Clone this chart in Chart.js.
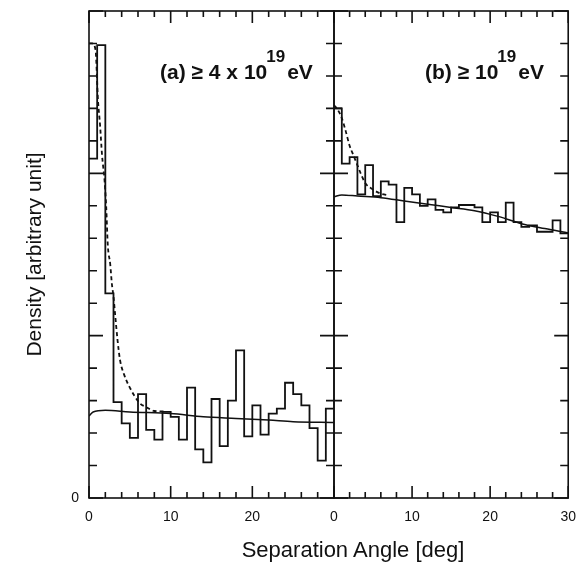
<!DOCTYPE html>
<html>
<head>
<meta charset="utf-8">
<script src="https://cdn.jsdelivr.net/npm/chart.js@4.4.0/dist/chart.umd.min.js"></script>
<style>
  body { margin: 0; background: #fff; }
  #wrap { position: relative; width: 587px; height: 562px; }
  canvas { position: absolute; left: 0; top: 0; }
  #xtitle { position: absolute; left: 0; width: 706px; top: 537px; line-height: 22px;
            text-align: center; font: 22px "Liberation Sans", Arial, sans-serif; color: #111; }
</style>
</head>
<body>
<div id="wrap">
  <canvas id="chartA" width="587" height="562"></canvas>
  <canvas id="chartB" width="587" height="562"></canvas>
  <div id="xtitle">Separation Angle [deg]</div>
</div>
<script>
// bin edges in deg (1 deg bins, last edge closes the histogram)
var binEdges = [0, 1, 2, 3, 4, 5, 6, 7, 8, 9, 10, 11, 12, 13, 14, 15, 16, 17, 18, 19, 20,
                21, 22, 23, 24, 25, 26, 27, 28, 29, 30];

// ---- panel (a) >= 4 x 10^19 eV ----
var histA = [2.09, 2.79, 1.26, 0.59, 0.46, 0.37, 0.64, 0.42, 0.36, 0.53,
             0.50, 0.36, 0.68, 0.30, 0.22, 0.61, 0.32, 0.60, 0.91, 0.38,
             0.57, 0.39, 0.52, 0.55, 0.71, 0.64, 0.57, 0.43, 0.23, 0.55];
var fitAngleA = [0, 0.5, 2, 5, 10, 14, 18, 22, 25, 30];
var fitA      = [0.505, 0.53, 0.54, 0.53, 0.52, 0.50, 0.49, 0.48, 0.47, 0.465];
var dashAngleA = [0, 0.4, 0.8, 1.1, 1.35, 1.6, 1.9, 2.1, 2.3, 2.6, 2.8, 3.0, 3.2, 3.5, 3.8, 4.3, 5.0, 6.2, 7.0, 8.0, 9.5];
var dashA      = [2.80, 2.80, 2.76, 2.45, 2.30, 2.11, 1.96, 1.80, 1.56, 1.44, 1.32, 1.24, 1.13, 0.97, 0.85, 0.76, 0.68, 0.585, 0.56, 0.536, 0.533];

// ---- panel (b) >= 10^19 eV ----
var histB = [2.40, 2.06, 2.10, 1.87, 2.05, 1.86, 1.95, 1.93, 1.70, 1.91,
             1.87, 1.80, 1.84, 1.775, 1.76, 1.79, 1.805, 1.805, 1.79, 1.70,
             1.76, 1.70, 1.82, 1.70, 1.67, 1.68, 1.64, 1.64, 1.71, 1.63];
var fitAngleB = [0, 1, 3, 6, 9, 12, 15, 18, 21, 24, 27, 30];
var fitB      = [1.855, 1.867, 1.86, 1.85, 1.83, 1.81, 1.79, 1.77, 1.735, 1.69, 1.66, 1.633];
var dashAngleB = [0, 0.5, 1, 1.5, 2, 2.5, 3, 3.5, 4, 5, 6, 7];
var dashB      = [2.42, 2.39, 2.34, 2.26, 2.17, 2.11, 2.05, 1.99, 1.94, 1.90, 1.875, 1.865];

Chart.defaults.font.family = "'Liberation Sans', Arial, sans-serif";
Chart.defaults.color = '#111';

function steps(edges, vals) {
  return edges.map(function (e, i) { return { x: e, y: vals[Math.min(i, vals.length - 1)] }; });
}
function pts(xs, ys) {
  return xs.map(function (x, i) { return { x: x, y: ys[i] }; });
}

// frame + inward ticks on all four sides, and the panel label
var frameTicks = {
  id: 'frameTicks',
  afterDatasetsDraw: function (chart, args, opts) {
    var ctx = chart.ctx, a = chart.chartArea;
    var xs = chart.scales.x, ys = chart.scales.y;
    ctx.save();
    ctx.strokeStyle = '#111';
    ctx.lineWidth = 1.6;
    ctx.strokeRect(a.left, a.top, a.right - a.left, a.bottom - a.top);
    ctx.beginPath();
    xs.ticks.forEach(function (t) {
      var px = xs.getPixelForValue(t.value);
      var len = t.value % 10 === 0 ? 12 : 6;
      ctx.moveTo(px, a.bottom); ctx.lineTo(px, a.bottom - len);
      ctx.moveTo(px, a.top); ctx.lineTo(px, a.top + len);
    });
    ys.ticks.forEach(function (t) {
      var py = ys.getPixelForValue(t.value);
      var len = Math.abs(t.value - Math.round(t.value)) < 1e-6 ? 14 : 8;
      ctx.moveTo(a.left, py); ctx.lineTo(a.left + len, py);
      ctx.moveTo(a.right, py); ctx.lineTo(a.right - len, py);
    });
    ctx.stroke();

    // label like "(a) ≥ 4 x 10^19 eV"
    ctx.fillStyle = '#111';
    ctx.textBaseline = 'alphabetic';
    var x0 = a.left + opts.dx, y0 = a.top + 68;
    ctx.font = 'bold 21px "Liberation Sans", Arial, sans-serif';
    ctx.fillText(opts.text, x0, y0);
    var w = ctx.measureText(opts.text).width;
    ctx.font = 'bold 17px "Liberation Sans", Arial, sans-serif';
    ctx.fillText(opts.sup, x0 + w - 1, y0 - 17);
    var sw = ctx.measureText(opts.sup).width;
    ctx.font = 'bold 21px "Liberation Sans", Arial, sans-serif';
    ctx.fillText(opts.unit, x0 + w + sw + 1, y0);
    ctx.restore();
  }
};

function makeChart(id, hist, fitX, fit, dashX, dash, cfg) {
  return new Chart(document.getElementById(id), {
    type: 'line',
    data: {
      datasets: [
        { data: steps(binEdges, hist), stepped: 'before', borderColor: '#111', borderWidth: 1.8, pointRadius: 0 },
        { data: pts(fitX, fit), borderColor: '#111', borderWidth: 1.5, pointRadius: 0, cubicInterpolationMode: 'monotone' },
        { data: pts(dashX, dash), borderColor: '#111', borderWidth: 1.8, borderDash: [4, 3], pointRadius: 0, cubicInterpolationMode: 'monotone' }
      ]
    },
    options: {
      responsive: false,
      animation: false,
      events: [],
      layout: { padding: cfg.padding },
      plugins: {
        legend: { display: false },
        tooltip: { enabled: false },
        frameTicks: cfg.label
      },
      scales: {
        x: {
          type: 'linear', min: 0, max: 30,
          afterFit: function (s) { s.height = 64; },
          grid: { display: false, drawTicks: false },
          border: { display: false },
          ticks: {
            stepSize: 2, autoSkip: false, maxRotation: 0, padding: 11,
            font: { size: 14 },
            callback: function (v) { return (v % 10 === 0 && cfg.xLabels.indexOf(v) >= 0) ? String(v) : ''; }
          }
        },
        y: {
          type: 'linear', min: 0, max: 3,
          afterFit: function (s) { s.width = cfg.yWidth; s.paddingTop = 0; s.paddingBottom = 0; },
          grid: { display: false, drawTicks: false },
          border: { display: false },
          ticks: {
            display: cfg.yLabels, stepSize: 0.2, autoSkip: false, padding: 10,
            font: { size: 14 },
            callback: function (v) { return Math.abs(v) < 1e-9 ? '0' : ''; }
          },
          title: {
            display: cfg.yLabels, text: 'Density [arbitrary unit]',
            font: { size: 21 }, padding: { top: 23, bottom: 0 }
          }
        }
      }
    },
    plugins: [frameTicks]
  });
}

makeChart('chartA', histA, fitAngleA, fitA, dashAngleA, dashA, {
  padding: { left: 0, right: 253, top: 11, bottom: 0 },
  yWidth: 89, yLabels: true, xLabels: [0, 10, 20],
  label: { text: '(a) \u2265 4 x 10', sup: '19', unit: 'eV', dx: 71 }
});
makeChart('chartB', histB, fitAngleB, fitB, dashAngleB, dashB, {
  padding: { left: 334, right: 10, top: 11, bottom: 0 },
  yWidth: 0, yLabels: false, xLabels: [0, 10, 20, 30],
  label: { text: '(b) \u2265 10', sup: '19', unit: 'eV', dx: 91 }
});
</script>
</body>
</html>
